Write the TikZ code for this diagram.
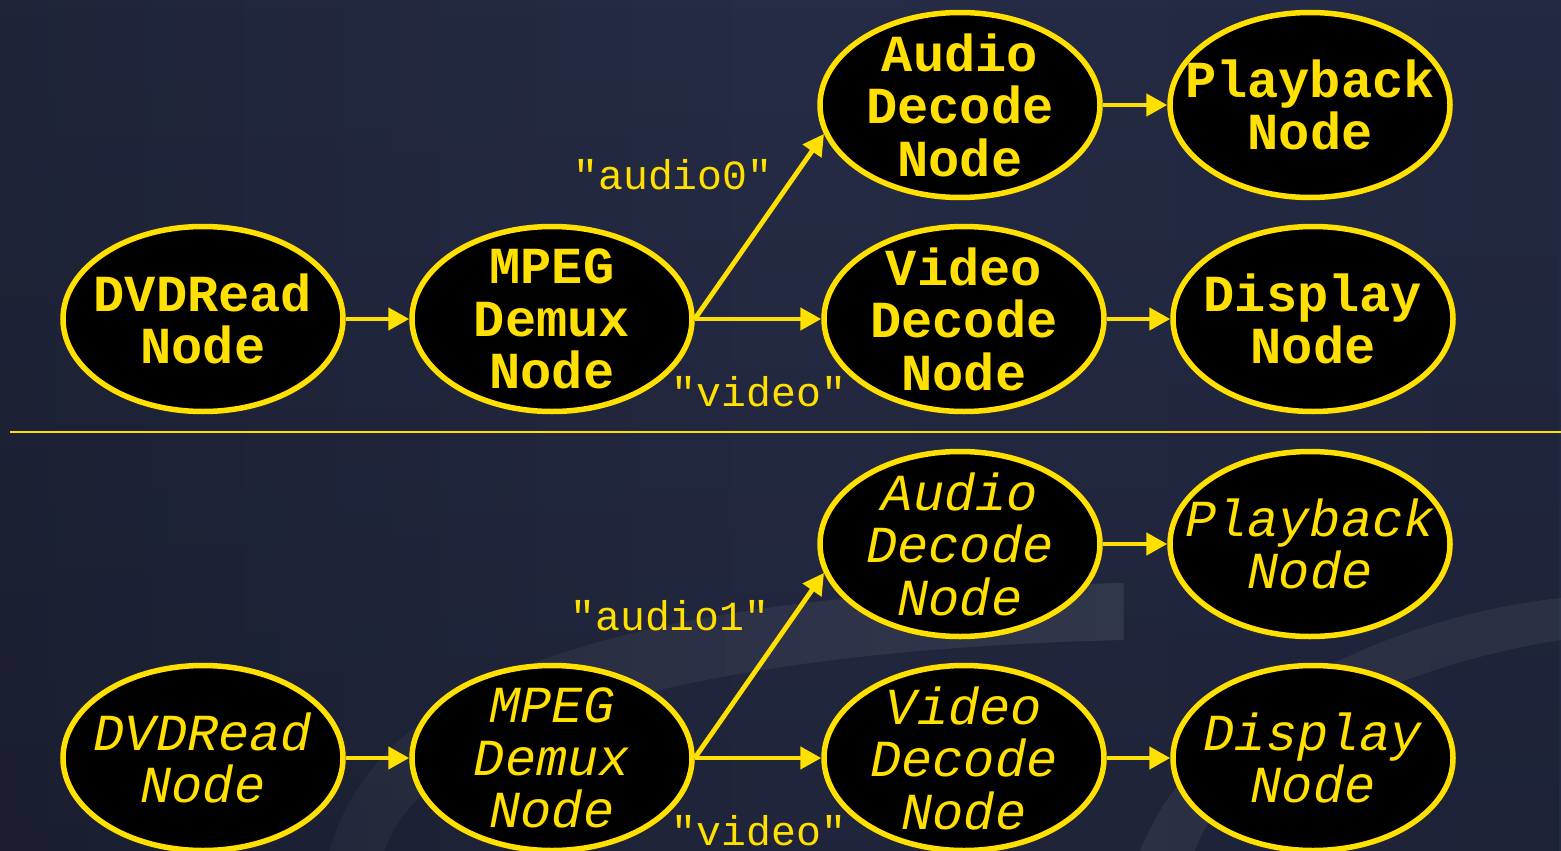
\documentclass[tikz,border=0pt]{standalone}
\usepackage{fontspec}
\setmainfont{Liberation Mono}
\newfontfamily\monofam{Liberation Mono}
\usetikzlibrary{shapes.geometric,arrows.meta,fadings}

\definecolor{flowyellow}{HTML}{FFE000}
\definecolor{bgleft}{HTML}{1F2439}
\definecolor{bgmid}{HTML}{262C46}
\definecolor{bgright}{HTML}{232942}

\tikzfading[name=darkbelow, top color=transparent!100, bottom color=transparent!0]
\tikzfading[name=brightright, left color=transparent!55, right color=transparent!0]

\tikzset{
  stage/.style={ellipse, draw=flowyellow, line width=5.5pt, fill=black,
    minimum width=280pt, minimum height=185pt, inner sep=0pt},
  stagetext/.style={text=flowyellow, align=center, inner sep=0pt},
  boldstage/.style={stage, label={[stagetext,
    font=\monofam\fontsize{52}{52.5}\selectfont\bfseries]center:{#1}}},
  slantstage/.style={stage, label={[stagetext,
    font=\monofam\fontsize{52}{52.5}\selectfont\itshape]center:{#1}}},
  flow/.style={draw=flowyellow, line width=4.8pt,
    -{Triangle[length=21pt,width=22pt]}},
  portlabel/.style={text=flowyellow, inner sep=0pt,
    font=\monofam\fontsize{41.5}{42}\selectfont},
  swoosh/.style={fill=white, draw=none},
}

\begin{document}
\begin{tikzpicture}[x=1pt, y=-1pt]
  % backdrop
  \useasboundingbox (0,0) rectangle (1561,851);
  \shade[left color=bgleft, right color=bgright, middle color=bgmid]
    (0,0) rectangle (1561,851);
  \fill[black, fill opacity=0.16, path fading=darkbelow]
    (0,0) rectangle (1561,851);
  \fill[swoosh, fill opacity=0.08, path fading=brightright]
    (330,851) .. controls (385,650) and (700,592) .. (1125,583)
    -- (1125,640) .. controls (720,650) and (430,720) .. (385,851) -- cycle;
  \fill[swoosh, fill opacity=0.06]
    (1140,851) .. controls (1200,700) and (1400,615) .. (1561,598)
    -- (1561,640) .. controls (1400,665) and (1235,740) .. (1195,851) -- cycle;

  % divider between the two configurations
  \draw[flowyellow, line width=2pt] (10,432) -- (1561,432);

  % first configuration
  \node[boldstage={DVDRead\\Node}]          (dvdA)   at (203,319) {};
  \node[boldstage={MPEG\\Demux\\Node}]      (mpegA)  at (552,319) {};
  \node[boldstage={Audio\\Decode\\Node}]    (audA)   at (960,105) {};
  \node[boldstage={Playback\\Node}]         (playA)  at (1310,105) {};
  \node[boldstage={Video\\Decode\\Node}]    (vidA)   at (964,319) {};
  \node[boldstage={Display\\Node}]          (dispA)  at (1313,319) {};

  \draw[flow] (dvdA) -- (mpegA);
  \draw[flow] (mpegA.east) -- (audA.192);
  \draw[flow] (mpegA.east) -- (vidA.west);
  \draw[flow] (audA) -- (playA);
  \draw[flow] (vidA) -- (dispA);

  \node[portlabel] (portAudA) at (673,175) {"audio0"};
  \node[portlabel] (portVidA) at (759,392) {"video"};

  % second configuration
  \node[slantstage={DVDRead\\Node}]         (dvdB)   at (203,758) {};
  \node[slantstage={MPEG\\Demux\\Node}]     (mpegB)  at (552,758) {};
  \node[slantstage={Audio\\Decode\\Node}]   (audB)   at (960,544) {};
  \node[slantstage={Playback\\Node}]        (playB)  at (1310,544) {};
  \node[slantstage={Video\\Decode\\Node}]   (vidB)   at (964,758) {};
  \node[slantstage={Display\\Node}]         (dispB)  at (1313,758) {};

  \draw[flow] (dvdB) -- (mpegB);
  \draw[flow] (mpegB.east) -- (audB.192);
  \draw[flow] (mpegB.east) -- (vidB.west);
  \draw[flow] (audB) -- (playB);
  \draw[flow] (vidB) -- (dispB);

  \node[portlabel] (portAudB) at (670,616) {"audio1"};
  \node[portlabel] (portVidB) at (759,831) {"video"};
\end{tikzpicture}
\end{document}
